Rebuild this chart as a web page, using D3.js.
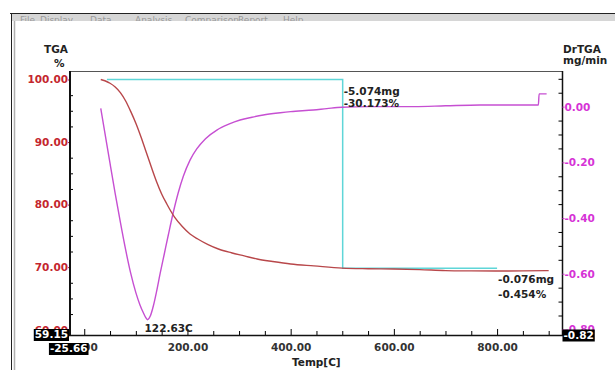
<!DOCTYPE html>
<html>
<head>
<meta charset="utf-8">
<script src="https://cdn.jsdelivr.net/npm/d3@7"></script>
<style>
  body { margin: 0; background: #fff; }
  text { font-family: "DejaVu Sans", sans-serif; font-weight: bold; font-size: 10.5px; }
</style>
</head>
<body>
<div id="chart"></div>
<script>
// axis ranges (the min values are also shown in the black boxes)
const tempRange = [-25.66, 925.8];
const tgaRange = [59.15, 101.36];
const drRange = [-0.82, 0.128];

const tempTicks = [0, 200, 400, 600, 800];
const tgaTicks = [60, 70, 80, 90, 100];
const drTicks = [0, -0.2, -0.4, -0.6, -0.8];

// TGA curve (%)
const tgaTemp = [32, 40, 50, 60, 70, 80, 90, 100, 110, 120, 130, 140, 150, 160, 175, 190, 205, 220, 240, 260,
  285, 310, 335, 365, 400, 445, 500, 550, 600, 650, 700, 750, 800, 850, 900];
const tgaPct = [100, 99.8, 99.4, 98.8, 97.9, 96.6, 94.9, 93.0, 90.8, 88.4, 86.0, 83.7, 81.7, 80.1, 78.0, 76.5, 75.3, 74.5, 73.6, 72.9,
  72.3, 71.8, 71.3, 70.9, 70.5, 70.2, 69.85, 69.75, 69.7, 69.6, 69.45, 69.4, 69.38, 69.4, 69.45];

// DrTGA curve (mg/min)
const drTemp = [32, 40, 50, 60, 70, 80, 90, 100, 108, 115, 119, 122.63, 128, 134, 140, 147, 155, 163, 172.5, 182,
  192, 205, 218, 235, 257, 280, 302, 325, 347, 380, 400, 444, 470, 499, 550, 600, 640, 700, 767, 830, 880, 881.5, 896];
const drRate = [-0.006, -0.094, -0.204, -0.312, -0.415, -0.512, -0.598, -0.668, -0.712, -0.742, -0.757, -0.765, -0.752, -0.715, -0.665, -0.60, -0.53, -0.46, -0.38, -0.31,
  -0.25, -0.192, -0.152, -0.115, -0.084, -0.063, -0.048, -0.038, -0.030, -0.022, -0.018, -0.012, -0.007, -0.002, 0, 0, 0, 0.003, 0.006, 0.006, 0.006, 0.046, 0.046];

// step analysis (cyan)
const stepTemp = [44, 500.8, 500.8, 800];
const stepPct = [100, 100, 69.83, 69.83];
const stepLabels = [["-5.074mg", "-30.173%"], ["-0.076mg", "-0.454%"]];

const peakTemp = 122.63;
const peakRate = -0.765;

const menuItems = ["File", "Display", "Data", "Analysis", "Comparison", "Report", "Help"];
const menuX = [20, 40, 90, 135, 185, 238, 283];

const W = 615, H = 370;
const plot = { left: 71, right: 562, top: 71, bottom: 335 };

const locale = d3.formatLocale({ decimal: ".", thousands: ",", grouping: [3], currency: ["", ""], minus: "-" });
const f2 = locale.format(".2f");

const svg = d3.select("#chart").append("svg")
  .attr("width", W).attr("height", H);

svg.append("rect").attr("width", W).attr("height", H).attr("fill", "#fff");

// window chrome
svg.append("rect").attr("x", 12).attr("y", 14).attr("width", W - 12).attr("height", 7).attr("fill", "#d6d6d6");
svg.append("line").attr("x1", 10).attr("x2", W).attr("y1", 13.5).attr("y2", 13.5).attr("stroke", "#222");
svg.append("line").attr("x1", 11.5).attr("x2", 11.5).attr("y1", 13).attr("y2", H).attr("stroke", "#222");
svg.append("line").attr("x1", 14.5).attr("x2", 14.5).attr("y1", 21).attr("y2", H).attr("stroke", "#b0b0b0").attr("stroke-width", 1.5);

svg.append("clipPath").attr("id", "menuclip")
  .append("rect").attr("x", 12).attr("y", 14).attr("width", W).attr("height", 7);
svg.append("g").attr("clip-path", "url(#menuclip)")
  .selectAll("text").data(menuItems).join("text")
  .attr("x", (d, i) => menuX[i]).attr("y", 23)
  .style("font-size", "9px").style("font-weight", "normal")
  .attr("fill", "#9a9a9a").text(d => d);

// scales
const x = d3.scaleLinear().domain(tempRange).range([plot.left, plot.right]);
const yL = d3.scaleLinear().domain(tgaRange).range([plot.bottom, plot.top]);
const yR = d3.scaleLinear().domain(drRange).range([plot.bottom, plot.top]);

svg.append("clipPath").attr("id", "plotclip")
  .append("rect").attr("x", plot.left).attr("y", plot.top)
  .attr("width", plot.right - plot.left).attr("height", plot.bottom - plot.top);

// curves
const g = svg.append("g").attr("clip-path", "url(#plotclip)");

g.append("path")
  .datum(stepTemp.map((t, i) => [t, stepPct[i]]))
  .attr("fill", "none").attr("stroke", "#5fd6d8").attr("stroke-width", 1.5)
  .attr("d", d3.line().x(d => x(d[0])).y(d => yL(d[1])));

g.append("path")
  .datum(drTemp.map((t, i) => [t, drRate[i]]))
  .attr("fill", "none").attr("stroke", "#c64fd2").attr("stroke-width", 1.4)
  .attr("d", d3.line().curve(d3.curveMonotoneX).x(d => x(d[0])).y(d => yR(d[1])));

g.append("path")
  .datum(tgaTemp.map((t, i) => [t, tgaPct[i]]))
  .attr("fill", "none").attr("stroke", "#b8474a").attr("stroke-width", 1.4)
  .attr("d", d3.line().curve(d3.curveMonotoneX).x(d => x(d[0])).y(d => yL(d[1])));

// frame lines
svg.append("line").attr("x1", 70).attr("x2", plot.right).attr("y1", 71.5).attr("y2", 71.5).attr("stroke", "#555");
svg.append("line").attr("x1", plot.right + 0.5).attr("x2", plot.right + 0.5).attr("y1", 71).attr("y2", plot.bottom + 1).attr("stroke", "#111").attr("stroke-width", 1.5);

// x axis
const minorTemp = d3.range(0, 901, 50).filter(t => !tempTicks.includes(t));
svg.append("g").attr("transform", `translate(0,${plot.bottom})`)
  .call(d3.axisBottom(x).tickValues(minorTemp).tickFormat("").tickSize(-4))
  .call(a => a.select(".domain").remove());
const xAxis = svg.append("g").attr("transform", `translate(0,${plot.bottom})`)
  .call(d3.axisBottom(x).tickValues(tempTicks).tickFormat(f2).tickSize(-6).tickPadding(9));
xAxis.select(".domain").remove();
xAxis.attr("font-size", null).attr("font-family", null);
xAxis.selectAll("text").attr("fill", "#333");
svg.append("line").attr("x1", 69).attr("x2", plot.right + 1).attr("y1", plot.bottom + 0.5).attr("y2", plot.bottom + 0.5)
  .attr("stroke", "#111").attr("stroke-width", 1.6);

// left axis (TGA)
const minorTga = d3.range(60, 101, 2.5).filter(v => !tgaTicks.includes(v));
svg.append("g").attr("transform", `translate(70,0)`)
  .call(d3.axisLeft(yL).tickValues(minorTga).tickFormat("").tickSize(-3))
  .call(a => a.select(".domain").remove());
const yAxisL = svg.append("g").attr("transform", `translate(70,0)`)
  .call(d3.axisLeft(yL).tickValues(tgaTicks).tickFormat(f2).tickSize(2).tickPadding(0));
yAxisL.select(".domain").remove();
yAxisL.attr("font-size", null).attr("font-family", null);
yAxisL.selectAll("text").attr("fill", "#c4262e");
yAxisL.selectAll("line").attr("stroke", "#c4262e");
svg.append("line").attr("x1", 70).attr("x2", 70).attr("y1", 71).attr("y2", plot.bottom + 1)
  .attr("stroke", "#111").attr("stroke-width", 2);

// right axis (DrTGA)
const minorDr = d3.range(-16, 3).map(k => k * 0.05).filter(v => Math.abs(v * 5 - Math.round(v * 5)) > 1e-6);
svg.append("g").attr("transform", `translate(${plot.right + 0.5},0)`)
  .call(d3.axisRight(yR).tickValues(minorDr).tickFormat("").tickSize(-4))
  .call(a => a.select(".domain").remove());
const yAxisR = svg.append("g").attr("transform", `translate(${plot.right + 0.5},0)`)
  .call(d3.axisRight(yR).tickValues(drTicks).tickFormat(f2).tickSize(2).tickPadding(0));
yAxisR.select(".domain").remove();
yAxisR.attr("font-size", null).attr("font-family", null);
yAxisR.selectAll("text").attr("fill", "#d633d6");
yAxisR.selectAll("line").attr("stroke", "#d633d6");

// axis titles
const ink = "#222";
svg.append("text").attr("x", 68).attr("y", 53).attr("text-anchor", "end").attr("fill", ink).text("TGA");
svg.append("text").attr("x", 64.5).attr("y", 66.5).attr("text-anchor", "end").attr("fill", ink).text("%");
svg.append("text").attr("x", 563).attr("y", 53).attr("fill", ink).text("DrTGA");
svg.append("text").attr("x", 563).attr("y", 63.5).attr("fill", ink).text("mg/min");
svg.append("text").attr("x", 292).attr("y", 366).attr("fill", ink).text("Temp[C]");

// step annotations
const labelOffsets = [[15.5, 27], [15, 30]];
[[1, stepPct[0]], [3, stepPct[2]]].forEach(([i, p], k) => {
  stepLabels[k].forEach((s, j) => {
    svg.append("text")
      .attr("x", x(stepTemp[i]) + 1)
      .attr("y", yL(p) + labelOffsets[k][j])
      .attr("fill", ink).text(s);
  });
});

// peak label
svg.append("text")
  .attr("x", x(peakTemp) - 3).attr("y", yR(peakRate) + 12)
  .attr("fill", ink).text(f2(peakTemp) + "C");

// black range boxes
function boxLabel(px, py, str, anchor) {
  const t = svg.append("text").attr("x", px).attr("y", py)
    .attr("text-anchor", anchor).attr("fill", "#fff").text(str);
  const b = t.node().getBBox();
  svg.insert("rect", () => t.node())
    .attr("x", b.x - 1).attr("y", b.y + 1).attr("width", b.width + 2).attr("height", b.height)
    .attr("fill", "#000");
}
boxLabel(68, 338, f2(tgaRange[0]), "end");
boxLabel(87.5, 352, f2(tempRange[0]), "end");
boxLabel(563.5, 338.5, f2(drRange[0]), "start");
</script>
</body>
</html>
